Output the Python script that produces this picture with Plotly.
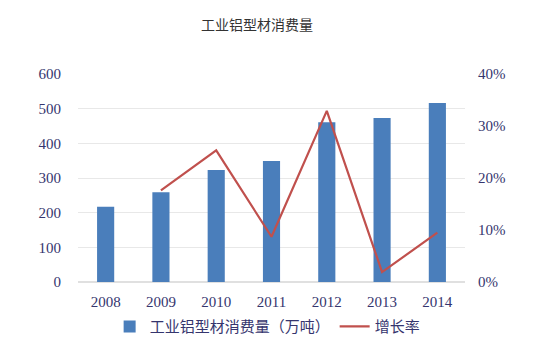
import plotly.graph_objects as go

years = ["2008", "2009", "2010", "2011", "2012", "2013", "2014"]
consumption = [217, 259, 323, 349, 461, 473, 516]
growth_years = ["2009", "2010", "2011", "2012", "2013", "2014"]
growth = [17.6, 25.3, 8.7, 32.9, 1.9, 9.5]

tick_font = dict(family="Liberation Serif, Times New Roman, serif", size=15, color="#35356e")

fig = go.Figure()
fig.add_trace(go.Bar(
    x=years, y=consumption, name="工业铝型材消费量（万吨）",
    marker=dict(color="#4a7ebb", line=dict(width=0)), width=0.31,
))
fig.add_trace(go.Scatter(
    x=growth_years, y=growth, name="增长率", mode="lines",
    line=dict(color="#c0504d", width=2.2), yaxis="y2",
))

fig.update_layout(
    width=546, height=349,
    margin=dict(l=70, r=89, t=66, b=75),
    paper_bgcolor="white", plot_bgcolor="white",
    title=dict(text="工业铝型材消费量", x=0.456, xanchor="center", y=0.951, yanchor="middle",
               font=dict(family="Noto Sans CJK SC", size=14, color="#333333")),
    xaxis=dict(type="category", showgrid=False, showline=False, ticks="",
               tickfont=tick_font, ticklabelstandoff=9),
    yaxis=dict(range=[0, 600], dtick=100, showgrid=True, gridcolor="#e8e8e8", gridwidth=1,
               zeroline=True, zerolinecolor="#e0e0e0", showline=False, ticks="",
               tickfont=tick_font, ticklabelstandoff=16),
    yaxis2=dict(range=[0, 40], dtick=10, overlaying="y", side="right", showgrid=False,
                zeroline=False, showline=False, ticks="", ticksuffix="%",
                tickfont=tick_font, ticklabelstandoff=12),
    legend=dict(orientation="h", x=0.49, xanchor="center", y=-0.215, yanchor="middle",
                font=dict(family="Noto Sans CJK SC", size=15, color="#35356e"),
                itemwidth=30, tracegroupgap=0),
    showlegend=True,
)

fig.write_html("out.html")
